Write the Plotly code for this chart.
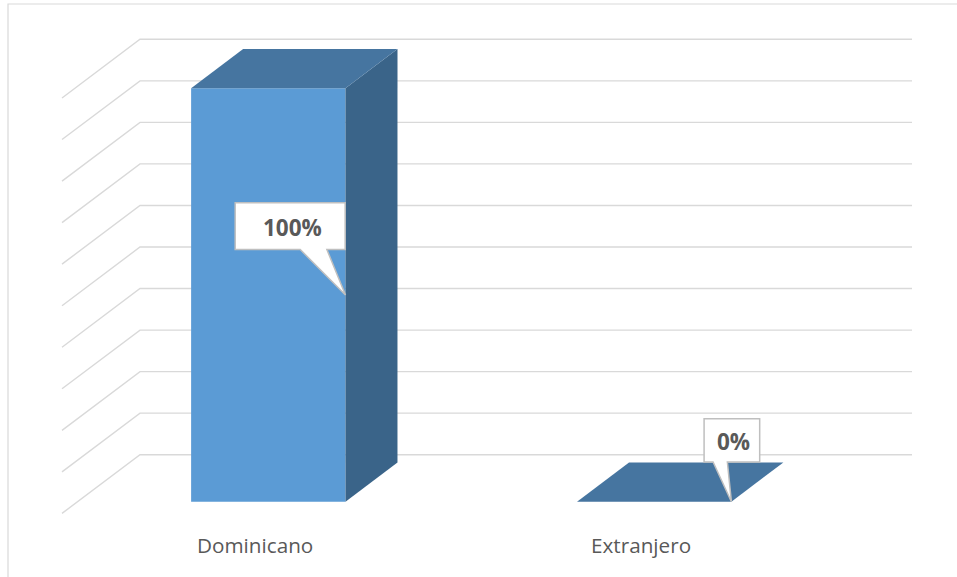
import plotly.graph_objects as go

# ---- data ----
categories = ["Dominicano", "Extranjero"]
values = [100, 0]
value_labels = ["100%", "0%"]
grid_ticks = [0, 10, 20, 30, 40, 50, 60, 70, 80, 90, 100]

# ---- colours / style ----
FRONT = "#5B9BD5"
SIDE = "#3A6489"
TOP = "#4675A0"
GRID = "#D9D9D9"
TEXT = "#595959"

W, H = 957, 577
# pixel scale of the (front-plane) axes
X0, XS = 268.3, 385.9   # pixel x of category 0, pixels per category unit
Y0, YS = 501.7, 4.134   # pixel y of value 0, pixels per value unit


def dxp(px):
    return px / XS


def dyp(px):
    return -px / YS


BAR_W = 0.4
DEPTH_X = dxp(52)       # bar depth offset
DEPTH_Y = dyp(-39.3)
WALL_DY = dyp(454.7 - Y0)          # back wall offset of zero
WALL_SCALE = 4.154 / YS
WALL_X0 = dxp(140 - X0)
WALL_X1 = dxp(912 - X0)
SIDE_DX = dxp(-78)
SIDE_DY = dyp(58.7)

xs = list(range(len(categories)))

fig = go.Figure()

# front faces
fig.add_trace(go.Bar(x=xs, y=values, width=BAR_W, marker=dict(color=FRONT, line=dict(width=0)),
                     hoverinfo="skip", showlegend=False))

# side & top faces
for x, v in zip(xs, values):
    r = x + BAR_W / 2
    l = x - BAR_W / 2
    if v != 0:
        fig.add_trace(go.Scatter(
            x=[r, r + DEPTH_X, r + DEPTH_X, r, r],
            y=[0, DEPTH_Y, v + DEPTH_Y, v, 0],
            fill="toself", fillcolor=SIDE, mode="lines", line=dict(width=0),
            hoverinfo="skip", showlegend=False))
    fig.add_trace(go.Scatter(
        x=[l, l + DEPTH_X, r + DEPTH_X, r, l],
        y=[v, v + DEPTH_Y, v + DEPTH_Y, v, v],
        fill="toself", fillcolor=TOP, mode="lines", line=dict(width=0),
        hoverinfo="skip", showlegend=False))

shapes = []
# gridlines on back and side walls
for k in grid_ticks:
    yb = WALL_DY + k * WALL_SCALE
    shapes.append(dict(type="path", xref="x", yref="y", layer="below",
                       path=f"M {WALL_X0 + SIDE_DX},{yb + SIDE_DY} L {WALL_X0},{yb} L {WALL_X1},{yb}",
                       line=dict(color=GRID, width=1.4)))

# chart border
shapes.append(dict(type="rect", xref="paper", yref="paper", layer="below",
                   x0=8 / W, x1=1.02, y0=-0.02, y1=1 - 4 / H,
                   line=dict(color=GRID, width=1.2), fillcolor="rgba(0,0,0,0)"))

# callouts: offsets in pixels relative to the tip (box l, r, t, b, tail l, tail r)
callout_px = [
    (-110.3, -0.3, -92.2, -45.5, -45.3, -18.6),
    (-27.3, 28.3, -83.0, -39.7, -18.3, -4.0),
]
annotations = []
for x, v, lab, (bl, br, bt, bb, tl, tr) in zip(xs, values, value_labels, callout_px):
    tx, ty = x + BAR_W / 2, v / 2
    P = lambda ox, oy: f"{tx + dxp(ox)},{ty + dyp(oy)}"
    path = (f"M {P(bl, bt)} L {P(br, bt)} L {P(br, bb)} L {P(tr, bb)} L {P(0, 0)} "
            f"L {P(tl, bb)} L {P(bl, bb)} Z")
    shapes.append(dict(type="path", xref="x", yref="y", layer="above", path=path,
                       fillcolor="white", line=dict(color="#BFBFBF", width=1.5)))
    annotations.append(dict(x=tx + dxp((bl + br) / 2 + 2), y=ty + dyp((bt + bb) / 2 + 1.5),
                            xref="x", yref="y", text=f"<b>{lab}</b>", showarrow=False,
                            font=dict(family="Open Sans", size=22.5, color=TEXT),
                            xanchor="center", yanchor="middle"))

# category labels
for x, c in zip(xs, categories):
    annotations.append(dict(x=x + dxp(-13), y=dyp(545 - Y0), xref="x", yref="y", text=c,
                            showarrow=False, font=dict(family="Open Sans", size=20.7, color=TEXT),
                            xanchor="center", yanchor="middle"))

fig.update_layout(
    width=W, height=H,
    margin=dict(l=0, r=0, t=0, b=0),
    paper_bgcolor="white", plot_bgcolor="white",
    xaxis=dict(range=[-X0 / XS, (W - X0) / XS], visible=False, fixedrange=True),
    yaxis=dict(range=[(Y0 - H) / YS, Y0 / YS], visible=False, fixedrange=True),
    shapes=shapes, annotations=annotations,
    showlegend=False,
)

fig.write_html("out.html", config=dict(displayModeBar=False),
               post_script="document.body.style.margin='0';document.body.style.overflow='hidden';")
